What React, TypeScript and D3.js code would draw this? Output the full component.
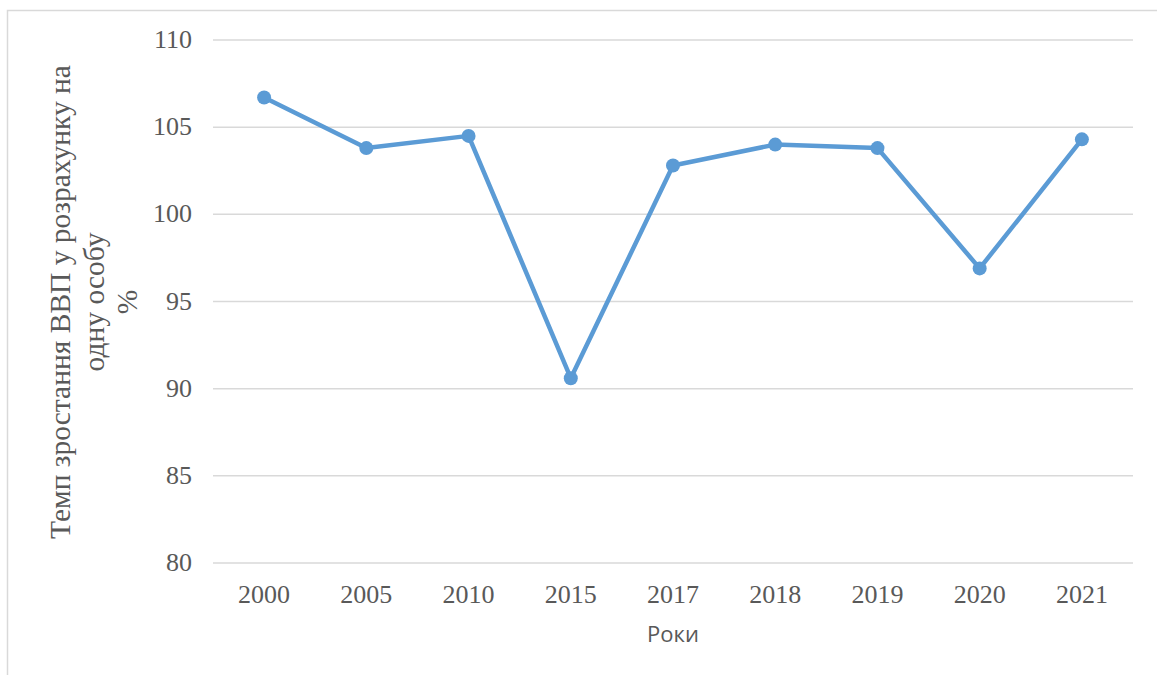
import React from "react";
import * as d3 from "d3";

const years = ["2000", "2005", "2010", "2015", "2017", "2018", "2019", "2020", "2021"];
const values = [106.7, 103.8, 104.5, 90.6, 102.8, 104.0, 103.8, 96.9, 104.3];
const yTicks = [80, 85, 90, 95, 100, 105, 110];
const yTitleLines = ["Темп зростання ВВП у розрахунку на", "одну особу", "%"];
const xTitle = "Роки";

export default function App() {
  const W = 1157, H = 675;
  const left = 213, right = 1133, top = 40, bottom = 563;
  const x = d3.scaleBand<string>().domain(years).range([left, right]);
  const y = d3.scaleLinear().domain([80, 110]).range([bottom, top]);
  const line = d3.line<number>()
    .x((_, i) => (x(years[i]) as number) + x.bandwidth() / 2)
    .y((d) => y(d));
  const serif = "'Liberation Serif', 'Times New Roman', serif";
  const txt = "#595959";
  return (
    <svg width={W} height={H} style={{ position: "absolute", left: 0, top: 0 }}>
      <rect x={0} y={0} width={W} height={H} fill="#fff" />
      <rect x={7.5} y={10.5} width={W + 20} height={H + 20} fill="none" stroke="#d9d9d9" strokeWidth={1.5} />
      {yTicks.map((t) => (
        <g key={t}>
          <line x1={left} x2={right} y1={y(t)} y2={y(t)} stroke="#d9d9d9" strokeWidth={1.5} />
          <text x={192} y={y(t) + 8} textAnchor="end" fontFamily={serif} fontSize={26} fill={txt}>{t}</text>
        </g>
      ))}
      {years.map((yr) => (
        <text key={yr} x={(x(yr) as number) + x.bandwidth() / 2} y={603} textAnchor="middle" fontFamily={serif} fontSize={26} fill={txt}>{yr}</text>
      ))}
      <path d={line(values) || ""} fill="none" stroke="#5B9BD5" strokeWidth={4.5} strokeLinejoin="round" />
      {values.map((v, i) => (
        <circle key={i} cx={(x(years[i]) as number) + x.bandwidth() / 2} cy={y(v)} r={7} fill="#5B9BD5" />
      ))}
      <g transform="translate(0,302) rotate(-90)">
        {yTitleLines.map((l, i) => (
          <text key={i} x={0} y={70 + i * 33.5} textAnchor="middle" fontFamily={serif} fontSize={29.5} fill={txt}>{l}</text>
        ))}
      </g>
      <text x={673} y={642} textAnchor="middle" fontFamily="'Open Sans', 'Liberation Sans', sans-serif" fontSize={22} fill={txt}>{xTitle}</text>
    </svg>
  );
}
